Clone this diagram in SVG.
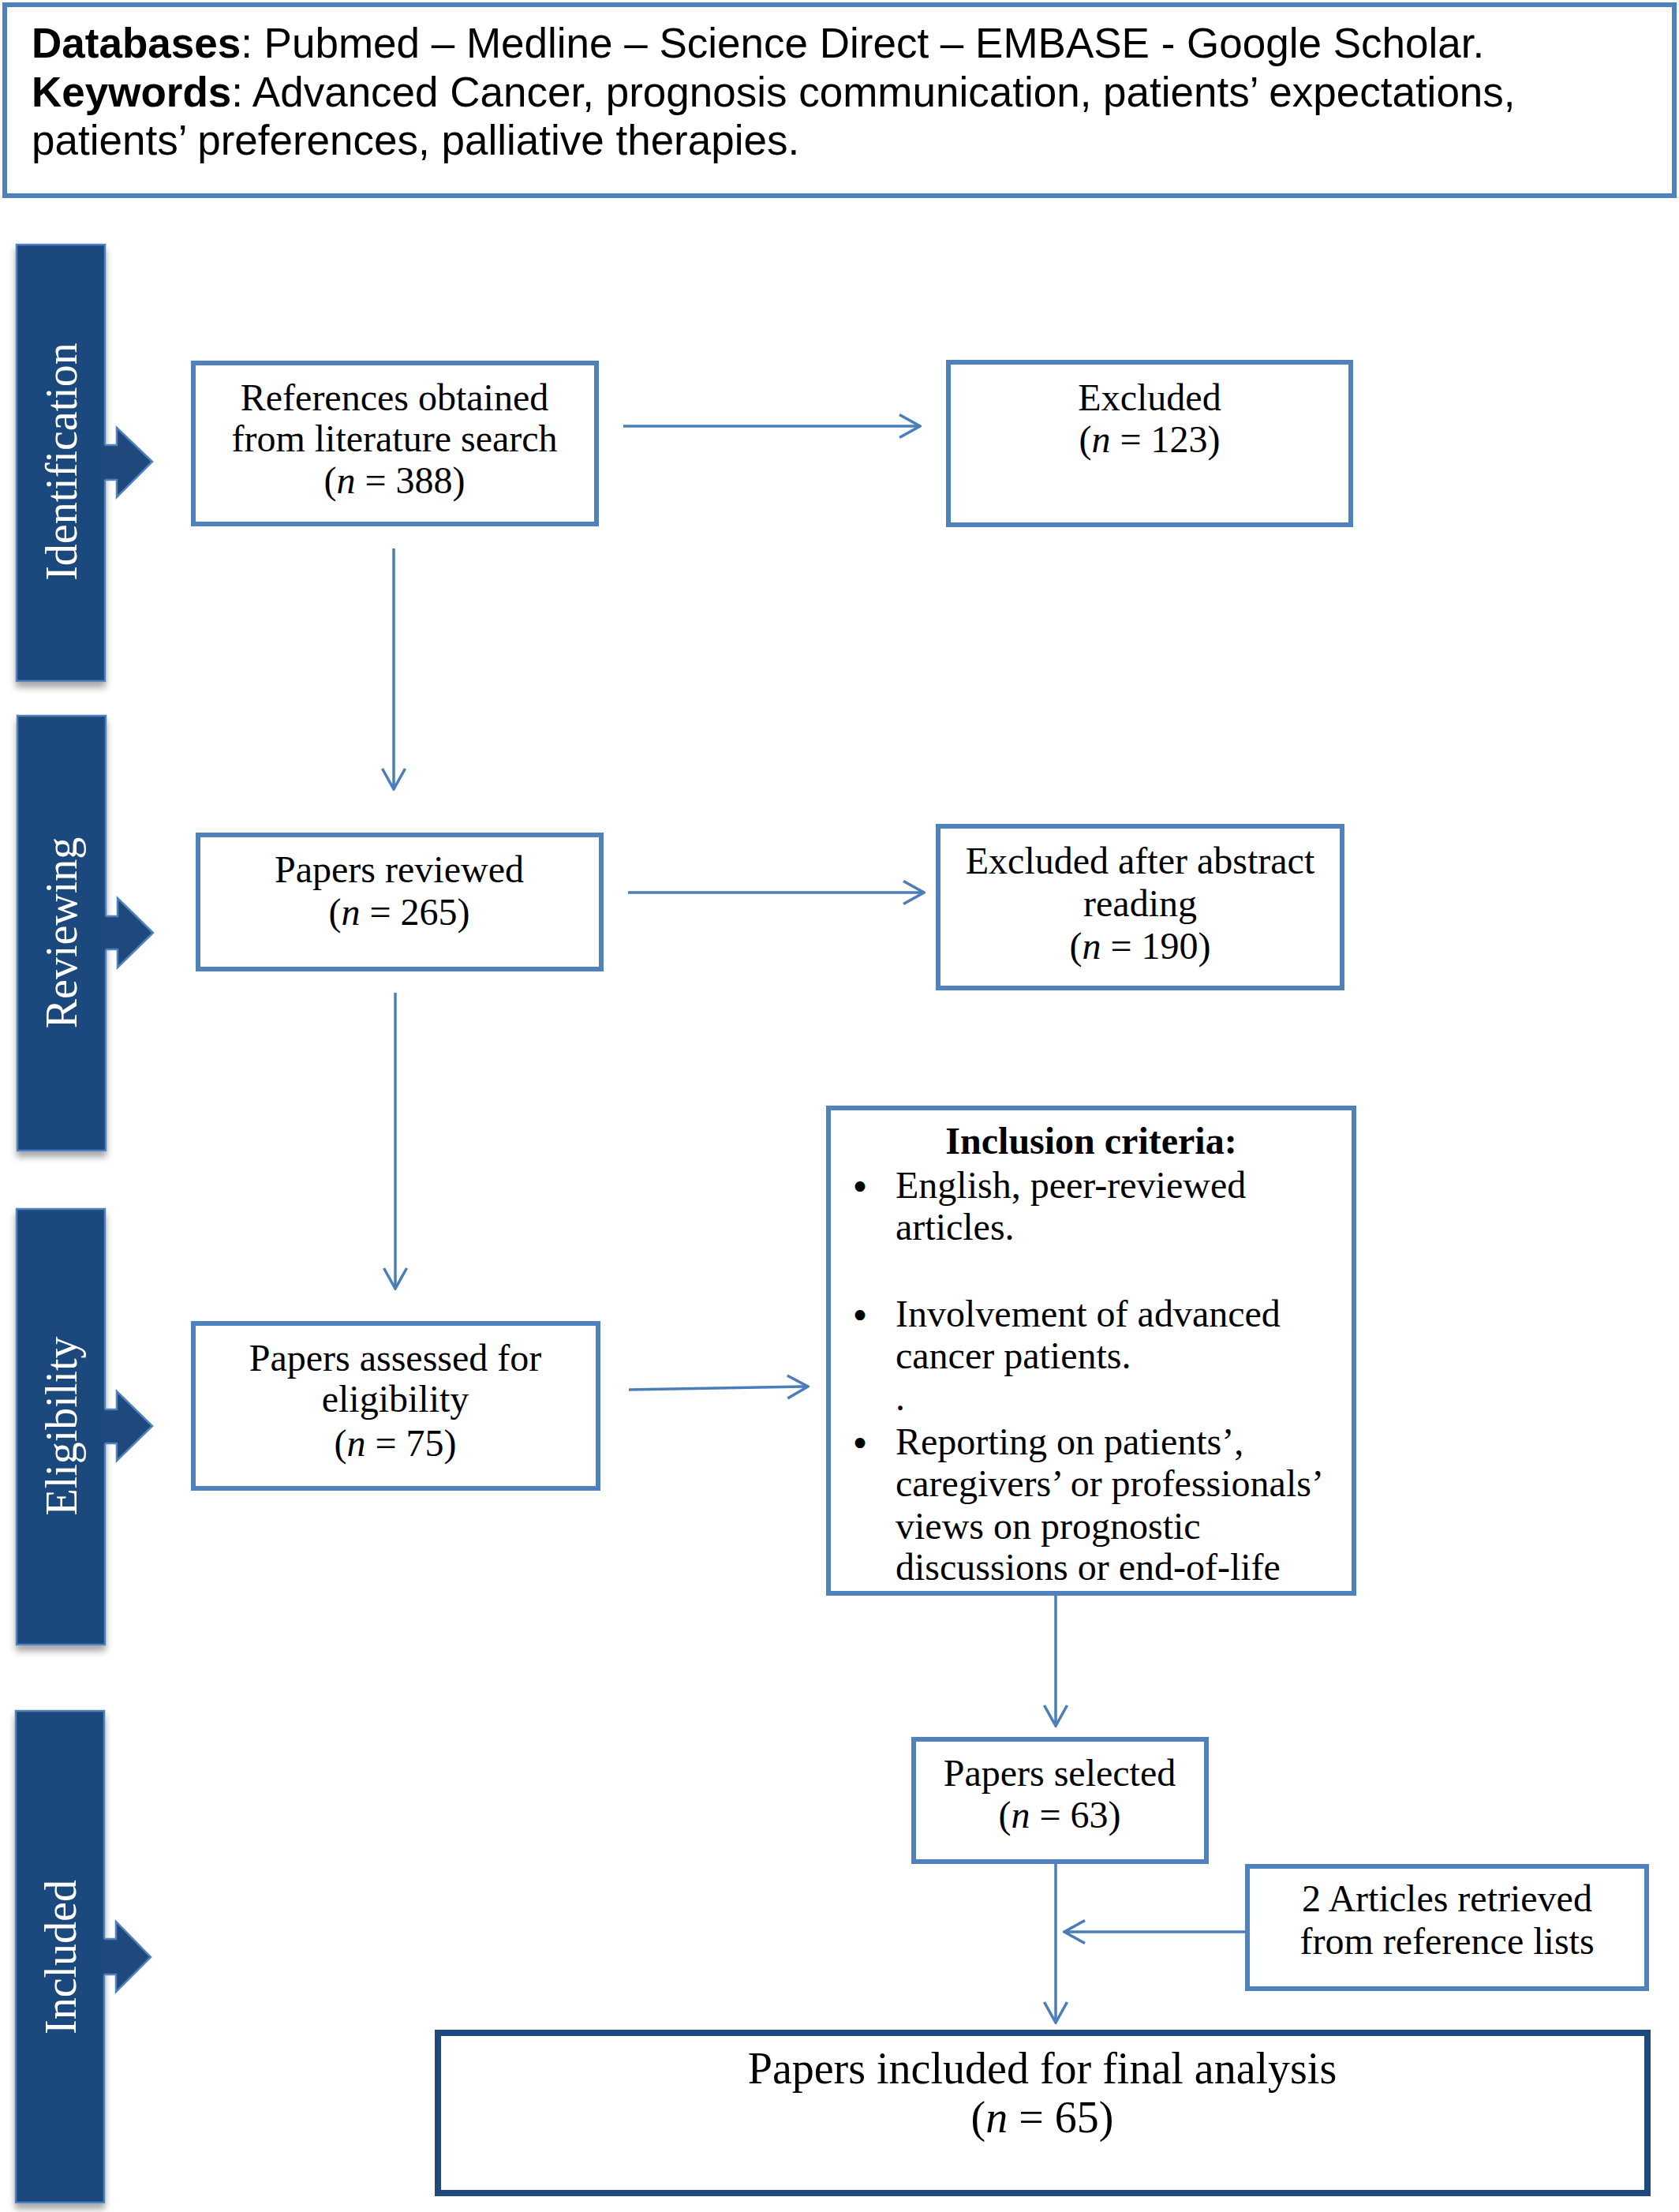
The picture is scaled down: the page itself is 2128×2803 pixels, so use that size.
<svg xmlns="http://www.w3.org/2000/svg" width="2128" height="2803" viewBox="0 0 2128 2803">
<defs>
<style>
.box{fill:#fff;stroke:#4F81BD;stroke-width:6}
.fbox{fill:#fff;stroke:#1F497D;stroke-width:8}
.bar{fill:#1F497D;stroke:#4F81BD;stroke-width:2.5}
.barfill{fill:#1F497D}
.barline{fill:none;stroke:#4F81BD;stroke-width:2.5;stroke-linejoin:miter}
.lbl{font-family:"Liberation Serif","Times New Roman",serif;font-size:56px;fill:#fff;text-anchor:middle}
.t{font-family:"Liberation Serif","Times New Roman",serif;font-size:48px;fill:#000;text-anchor:middle}
.tl{font-family:"Liberation Serif","Times New Roman",serif;font-size:48px;fill:#000}
.bul{font-family:"DejaVu Sans",sans-serif;font-size:44px;fill:#000;text-anchor:middle}
.tf{font-family:"Liberation Serif","Times New Roman",serif;font-size:56px;fill:#000;text-anchor:middle}
.hdr{font-family:"Liberation Sans",Arial,sans-serif;font-size:53px;fill:#000}
.conn{fill:none;stroke:#4A7EBB;stroke-width:3.5}
</style>
<marker id="ah" markerUnits="userSpaceOnUse" viewBox="0 0 30 34" refX="28" refY="17" markerWidth="30" markerHeight="34" orient="auto">
<path d="M2,2.5 L28,17 L2,31.5" fill="none" stroke="#4A7EBB" stroke-width="3.5"/>
</marker>
<filter id="sh" x="-20%" y="-10%" width="140%" height="130%">
<feDropShadow dx="0" dy="7" stdDeviation="4" flood-color="#000" flood-opacity="0.35"/>
</filter>
</defs>
<rect width="2128" height="2803" fill="#fff"/>

<g id="header">
<rect class="box" x="6" y="6" width="2116" height="242"/>
<text class="hdr" x="40" y="73"><tspan font-weight="bold">Databases</tspan>: Pubmed – Medline – Science Direct – EMBASE - Google Scholar.</text>
<text class="hdr" x="40" y="135"><tspan font-weight="bold">Keywords</tspan>: Advanced Cancer, prognosis communication, patients’ expectations,</text>
<text class="hdr" x="40" y="196">patients’ preferences, palliative therapies.</text>
</g>

<g id="bar-identification">
<rect class="bar" x="21" y="310" width="112" height="553" filter="url(#sh)"/>
<path class="barfill" d="M128,564 H148 V542 L193,585 L148,630 V608 H128 Z"/>
<path class="barline" d="M133,564 H148 V542 L193,585 L148,630 V608 H133"/>
<text class="lbl" transform="translate(97,585) rotate(-90)">Identification</text>
</g>

<g id="bar-reviewing">
<rect class="bar" x="22" y="907" width="112" height="551" filter="url(#sh)"/>
<path class="barfill" d="M129,1161 H149 V1138 L194,1182 L149,1226 V1203 H129 Z"/>
<path class="barline" d="M134,1161 H149 V1138 L194,1182 L149,1226 V1203 H134"/>
<text class="lbl" transform="translate(97,1182) rotate(-90)">Reviewing</text>
</g>

<g id="bar-eligibility">
<rect class="bar" x="21" y="1532" width="112" height="552" filter="url(#sh)"/>
<path class="barfill" d="M128,1786 H148 V1763 L193,1807 L148,1851 V1829 H128 Z"/>
<path class="barline" d="M133,1786 H148 V1763 L193,1807 L148,1851 V1829 H133"/>
<text class="lbl" transform="translate(97,1807) rotate(-90)">Eligibility</text>
</g>

<g id="bar-included">
<rect class="bar" x="20" y="2168" width="112" height="623" filter="url(#sh)"/>
<path class="barfill" d="M127,2457 H147 V2435 L191,2480 L147,2524 V2502 H127 Z"/>
<path class="barline" d="M132,2457 H147 V2435 L191,2480 L147,2524 V2502 H132"/>
<text class="lbl" transform="translate(96,2480) rotate(-90)">Included</text>
</g>

<g id="connectors">
<line class="conn" x1="790" y1="540" x2="1166" y2="540" marker-end="url(#ah)"/>
<line class="conn" x1="499" y1="695" x2="499" y2="1000" marker-end="url(#ah)"/>
<line class="conn" x1="796" y1="1131" x2="1171" y2="1131" marker-end="url(#ah)"/>
<line class="conn" x1="501" y1="1258" x2="501" y2="1633" marker-end="url(#ah)"/>
<line class="conn" x1="797" y1="1761" x2="1024" y2="1757" marker-end="url(#ah)"/>
<line class="conn" x1="1338" y1="2022" x2="1338" y2="2187" marker-end="url(#ah)"/>
<line class="conn" x1="1338" y1="2362" x2="1338" y2="2563" marker-end="url(#ah)"/>
<line class="conn" x1="1578" y1="2448" x2="1349" y2="2448" marker-end="url(#ah)"/>
</g>

<g id="n-references">
<rect class="box" x="245" y="460" width="511" height="204"/>
<text class="t" x="500" y="520">References obtained</text>
<text class="t" x="500" y="572">from literature search</text>
<text class="t" x="500" y="625">(<tspan font-style="italic">n</tspan> = 388)</text>
</g>

<g id="n-excluded">
<rect class="box" x="1202" y="459" width="510" height="206"/>
<text class="t" x="1457" y="520">Excluded</text>
<text class="t" x="1457" y="573">(<tspan font-style="italic">n</tspan> = 123)</text>
</g>

<g id="n-reviewed">
<rect class="box" x="251" y="1058" width="511" height="170"/>
<text class="t" x="506" y="1118">Papers reviewed</text>
<text class="t" x="506" y="1172">(<tspan font-style="italic">n</tspan> = 265)</text>
</g>

<g id="n-excluded-abstract">
<rect class="box" x="1189" y="1047" width="512" height="205"/>
<text class="t" x="1445" y="1107">Excluded after abstract</text>
<text class="t" x="1445" y="1161">reading</text>
<text class="t" x="1445" y="1215">(<tspan font-style="italic">n</tspan> = 190)</text>
</g>

<g id="n-assessed">
<rect class="box" x="245" y="1677" width="513" height="209"/>
<text class="t" x="501" y="1737">Papers assessed for</text>
<text class="t" x="501" y="1789">eligibility</text>
<text class="t" x="501" y="1845">(<tspan font-style="italic">n</tspan> = 75)</text>
</g>

<g id="n-inclusion">
<rect class="box" x="1050" y="1404" width="666" height="615"/>
<text class="t" x="1383" y="1462" font-weight="bold">Inclusion criteria:</text>
<text class="bul" x="1090" y="1520">•</text>
<text class="tl" x="1135" y="1518">English, peer-reviewed</text>
<text class="tl" x="1135" y="1571">articles.</text>
<text class="bul" x="1090" y="1683">•</text>
<text class="tl" x="1135" y="1681">Involvement of advanced</text>
<text class="tl" x="1135" y="1734">cancer patients.</text>
<text class="tl" x="1135" y="1787">.</text>
<text class="bul" x="1090" y="1845">•</text>
<text class="tl" x="1135" y="1843">Reporting on patients’,</text>
<text class="tl" x="1135" y="1896">caregivers’ or professionals’</text>
<text class="tl" x="1135" y="1950">views on prognostic</text>
<text class="tl" x="1135" y="2002">discussions or end-of-life</text>
</g>

<g id="n-selected">
<rect class="box" x="1158" y="2204" width="371" height="155"/>
<text class="t" x="1343" y="2263">Papers selected</text>
<text class="t" x="1343" y="2316">(<tspan font-style="italic">n</tspan> = 63)</text>
</g>

<g id="n-retrieved">
<rect class="box" x="1581" y="2365" width="506" height="155"/>
<text class="t" x="1834" y="2422">2 Articles retrieved</text>
<text class="t" x="1834" y="2476">from reference lists</text>
</g>

<g id="n-final">
<rect class="fbox" x="555" y="2576" width="1533" height="203"/>
<text class="tf" x="1321" y="2640">Papers included for final analysis</text>
<text class="tf" x="1321" y="2702">(<tspan font-style="italic">n</tspan> = 65)</text>
</g>
</svg>
